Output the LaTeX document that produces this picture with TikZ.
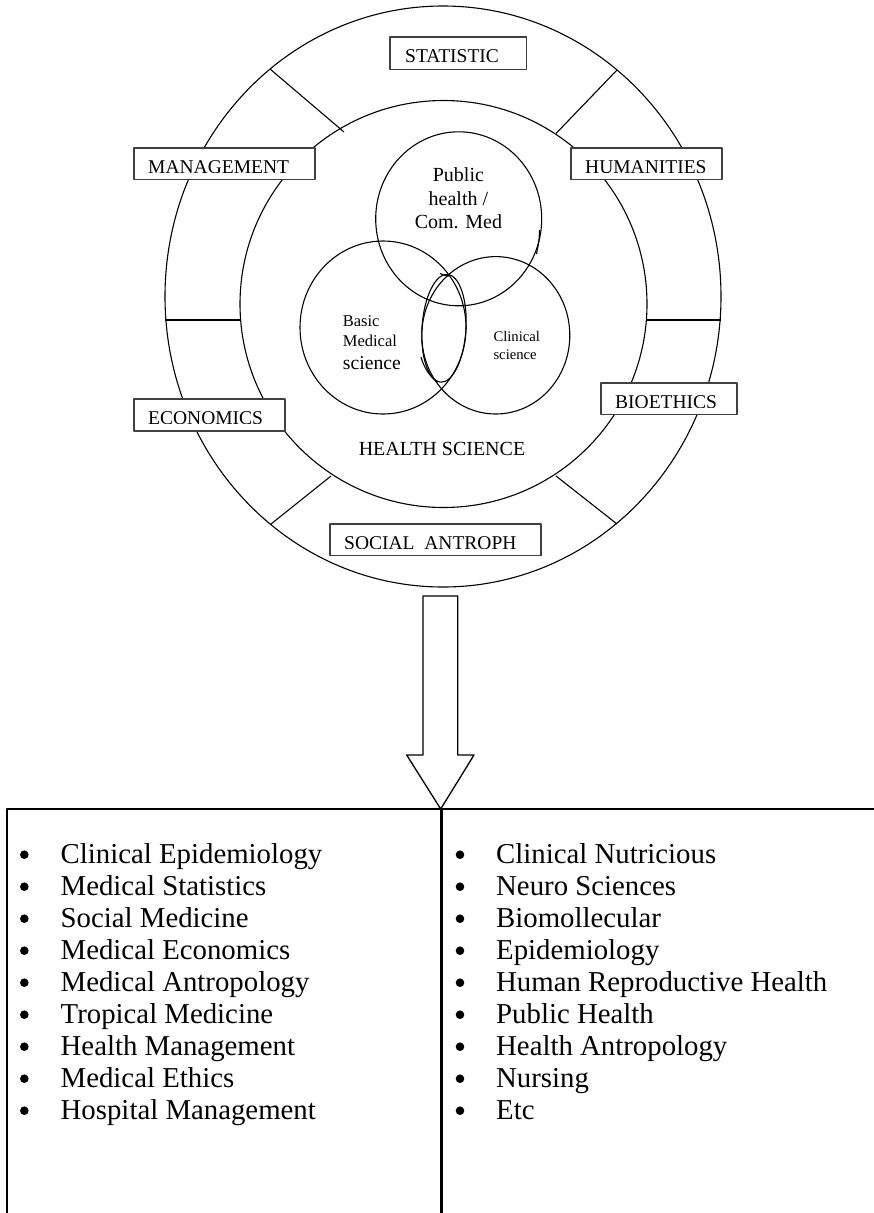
\documentclass[tikz,border=0pt]{standalone}
\usepackage{fontspec}
\newfontfamily\tms{Liberation Serif}
\usetikzlibrary{calc}

% boxed ring label: name, left, top, right, bottom, text
\newcommand\lblbox[6]{%
  \node[tagbox, minimum width={#4-#2}, minimum height={#5-#3}] (#1) at ({(#2+#4)/2},{(#3+#5)/2}) {};
  \node[tagtext, anchor=base west] (#1-t) at ($(#1.north west)+(14,25.8)$) {#6};
  \fill[white] ($(#1.south west)+(1.2,-1.2)$) rectangle ($(#1.south east)+(-1.2,-6.6)$);
  \draw[tagline] (#1.north west) rectangle (#1.south east);
}

\begin{document}
\begin{tikzpicture}[x=1pt,y=-1pt,line join=round,
  ring/.style={line width=1.1pt},
  tagbox/.style={fill=white,inner sep=0pt,outer sep=0pt,rectangle},
  tagline/.style={draw=black!75,line width=1.6pt},
  tagtext/.style={font=\tms\fontsize{19.5}{20}\selectfont,inner sep=0pt},
  vtext/.style={inner sep=0pt},
  item/.style={font=\tms\fontsize{28.8}{30}\selectfont,inner sep=0pt,anchor=base west},
  frame/.style={line width=2.2pt},
  blockarrow/.style={line width=1.3pt}]

\useasboundingbox (0,0) rectangle (874,1213);
\clip (0,0) rectangle (874,1213);

% ---- outer ring and health-science circle ----
\draw[ring] (443,296.5) ellipse [x radius=278, y radius=290.5];
\draw[ring] (443.5,304) circle [radius=203.5];

% ring dividers
\draw[ring] (270,69) -- (344,132);
\draw[ring] (617,70) -- (556,133.5);
\draw[ring] (165,320) -- (240.5,320);
\draw[ring] (647,320) -- (720.5,320);
\draw[ring] (331,476) -- (271,524);
\draw[ring] (556,476) -- (617,524);

% ---- labels on the ring ----
\lblbox{stat}{390}{37}{526.5}{69.5}{\hspace{1pt}STATISTIC}
\lblbox{mgmt}{134}{148}{315}{179.5}{MANAGEMENT}
\lblbox{hum}{571}{148}{722}{179.5}{HUMANITIES}
\lblbox{econ}{134}{399}{285}{431}{ECONOMICS}
\lblbox{bio}{601}{383}{737}{414.5}{BIOETHICS}
\lblbox{soc}{330}{524}{541}{555.5}{SOCIAL\ \ ANTROPH}

% ---- the three overlapping fields ----
\draw[ring] (458.7,218.8) ellipse [x radius=83, y radius=87];
\draw[ring] (383,327.5) ellipse [x radius=83, y radius=86.5];
\draw[ring] (495.8,335.3) ellipse [x radius=74, y radius=78.7];
\draw[ring,shift={(444,328.3)},rotate=-3.6] (0,0) ellipse [x radius=22, y radius=54];
\draw[ring] (421,357) .. controls (424,368) and (430,377) .. (438,382);
\draw[ring] (440,273.5) -- (448.5,276.5);
\draw[ring] (539.5,230) .. controls (539.2,240) .. (536.5,254);

\node[vtext,font=\tms\fontsize{20}{22}\selectfont,anchor=base] (ph1) at (458.4,181.7) {Public};
\node[vtext,font=\tms\fontsize{20}{22}\selectfont,anchor=base] (ph2) at (458.4,205) {health /};
\node[vtext,font=\tms\fontsize{20}{22}\selectfont,anchor=base] (ph3) at (458.4,228.3) {Com. Med};

\node[vtext,font=\tms\fontsize{16.5}{18}\selectfont,anchor=base west] (bm1) at (342.7,326.7) {Basic};
\node[vtext,font=\tms\fontsize{16.5}{18}\selectfont,anchor=base west] (bm2) at (342.7,346.7) {Medical};
\node[vtext,font=\tms\fontsize{19.7}{21}\selectfont,anchor=base west] (bm3) at (342.7,369.3) {science};

\node[vtext,font=\tms\fontsize{14.7}{16}\selectfont,anchor=base west] (cs1) at (493.3,341.7) {Clinical};
\node[vtext,font=\tms\fontsize{14.7}{16}\selectfont,anchor=base west] (cs2) at (493.3,359.3) {science};

\node[vtext,font=\tms\fontsize{20}{22}\selectfont,anchor=base] (hs) at (442,455) {HEALTH SCIENCE};

% ---- block arrow down to the table ----
\coordinate (tip) at (440.7,809);
\draw[blockarrow] (423,596) -- (457.7,596) -- (457.7,755) -- (474,755) -- (tip)
  -- (406.7,755) -- (423,755) -- cycle;

% ---- two-column table ----
\draw[frame] (7,1220) -- (7,809) -- (880,809);
\draw[frame] (441.5,809) -- (441.5,1220);

\foreach \t [count=\i] in {Clinical Epidemiology, Medical Statistics, Social Medicine,
    Medical Economics, Medical Antropology, Tropical Medicine, Health Management,
    Medical Ethics, Hospital Management} {
  \node[item] (l\i) at (60.5,{863+32*(\i-1)}) {\t};
  \fill (24.3,{863+32*(\i-1)-8.3}) circle [radius=4.3];
}
\foreach \t [count=\i] in {Clinical Nutricious, Neuro Sciences, Biomollecular,
    Epidemiology, Human Reproductive Health, Public Health, Health Antropology,
    Nursing, Etc} {
  \node[item] (r\i) at (496,{863+32*(\i-1)}) {\t};
  \fill (460,{863+32*(\i-1)-8.3}) circle [radius=4.3];
}
\end{tikzpicture}
\end{document}
